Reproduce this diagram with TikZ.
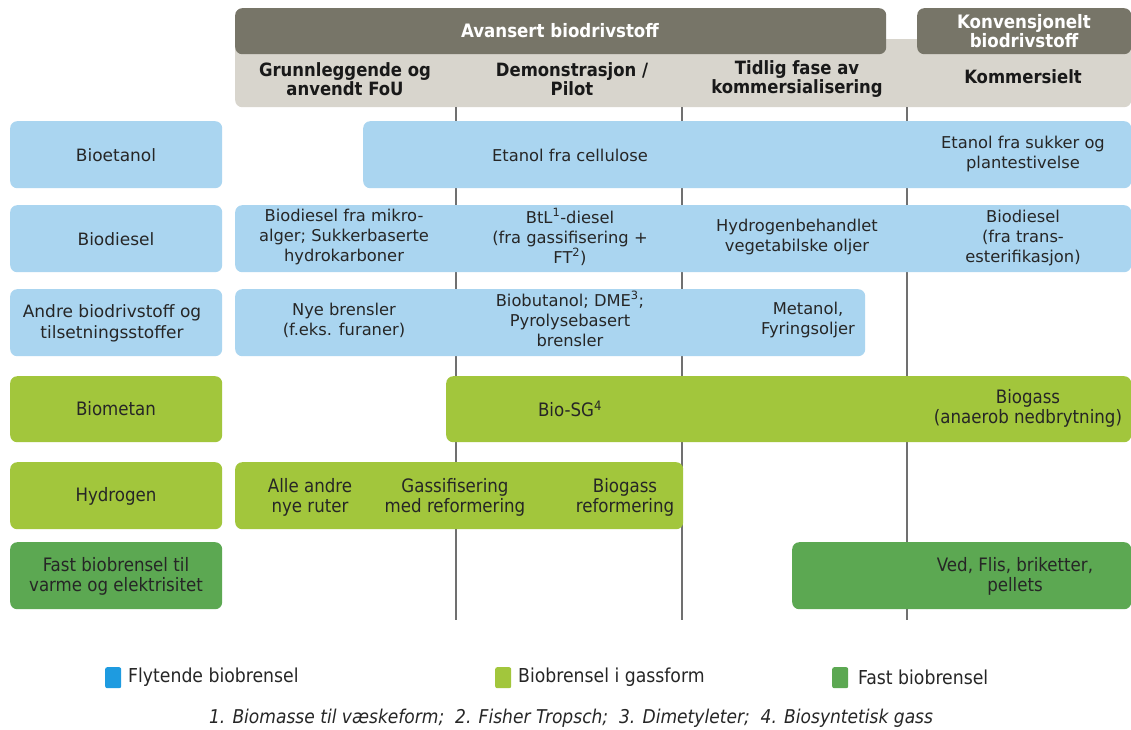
\documentclass[tikz,border=0pt]{standalone}
\usepackage{fontspec}
\setmainfont{DejaVu Sans}
\newfontfamily\condfont{DejaVu Sans Condensed}
\definecolor{hdrdark}{HTML}{777568}
\definecolor{hdrlight}{HTML}{D8D5CD}
\definecolor{lblue}{HTML}{AAD5F0}
\definecolor{lgreen}{HTML}{A2C63C}
\definecolor{dgreen}{HTML}{5CA852}
\definecolor{legblue}{HTML}{1E9BE0}
\definecolor{vline}{HTML}{707070}
\tikzset{
  boxbase/.style={rounded corners=7pt, anchor=north west, inner sep=0pt, draw=none},
  bluebox/.style={boxbase, fill=lblue},
  greenbox/.style={boxbase, fill=lgreen},
  darkbox/.style={boxbase, fill=dgreen},
  txt/.style={align=center, font=\fontsize{16.3}{20}\selectfont, text=black!85, inner sep=0pt},
  ltxt/.style={align=center, font=\fontsize{17}{21}\selectfont, text=black!85, inner sep=0pt},
  gtxt/.style={align=center, font=\condfont\fontsize{18.5}{20}\selectfont, text=black!85, inner sep=0pt},
  htxt/.style={align=center, font=\condfont\bfseries\fontsize{18.3}{18.5}\selectfont, text=black!90, inner sep=0pt},
  wtxt/.style={align=center, font=\condfont\bfseries\fontsize{18.5}{19.5}\selectfont, text=white, inner sep=0pt},
  legsq/.style={anchor=north west, inner sep=0pt, minimum width=16pt, minimum height=21pt, rounded corners=2pt},
  legtxt/.style={anchor=west, font=\condfont\fontsize{19.2}{20}\selectfont, text=black!85, inner sep=0pt},
  gridline/.style={draw=vline, line width=2.4pt}
}
\begin{document}
\begin{tikzpicture}[x=1pt,y=-1pt]
\useasboundingbox[fill=white] (0,0) rectangle (1131,729);
% header bands
\node[boxbase, fill=hdrlight, minimum width=896pt, minimum height=68pt] (hband) at (235,39) {};
\node[boxbase, fill=hdrdark, minimum width=651pt, minimum height=46pt] (hadv) at (235,8) {};
\node[boxbase, fill=hdrdark, minimum width=214pt, minimum height=46pt] (hkonv) at (917,8) {};
\node[wtxt] (tadv) at (560,31) {Avansert biodrivstoff};
\node[wtxt] (tkonv) at (1024,31) {Konvensjonelt\\biodrivstoff};
\node[htxt] (c1) at (345,79) {Grunnleggende og\\anvendt FoU};
\node[htxt] (c2) at (572,79) {Demonstrasjon /\\Pilot};
\node[htxt] (c3) at (797,79) {Tidlig fase av\\kommersialisering};
\node[htxt] (c4) at (1023,77) {Kommersielt};
% vertical grid lines
\coordinate (l1a) at (456,107); \coordinate (l1b) at (456,620);
\coordinate (l2a) at (682,107); \coordinate (l2b) at (682,620);
\coordinate (l3a) at (907,107); \coordinate (l3b) at (907,620);
\draw[gridline] (l1a) -- (l1b);
\draw[gridline] (l2a) -- (l2b);
\draw[gridline] (l3a) -- (l3b);
% row labels
\node[bluebox, minimum width=212pt, minimum height=67pt] (r1) at (10,121) {};
\node[bluebox, minimum width=212pt, minimum height=67pt] (r2) at (10,205) {};
\node[bluebox, minimum width=212pt, minimum height=67pt] (r3) at (10,289) {};
\node[greenbox, minimum width=212pt, minimum height=66pt] (r4) at (10,376) {};
\node[greenbox, minimum width=212pt, minimum height=67pt] (r5) at (10,462) {};
\node[darkbox, minimum width=212pt, minimum height=67pt] (r6) at (10,542) {};
\node[ltxt] (r1t) at (116,155) {Bioetanol};
\node[ltxt] (r2t) at (116,239) {Biodiesel};
\node[ltxt] (r3t) at (112,323) {Andre biodrivstoff og\\tilsetningsstoffer};
\node[gtxt] (r4t) at (116,409) {Biometan};
\node[gtxt] (r5t) at (116,496) {Hydrogen};
\node[gtxt] (r6t) at (116,576) {Fast biobrensel til\\varme og elektrisitet};
% bars
\node[bluebox, minimum width=768pt, minimum height=67pt] (b1) at (363,121) {};
\node[bluebox, minimum width=896pt, minimum height=67pt] (b2) at (235,205) {};
\node[bluebox, minimum width=630pt, minimum height=67pt] (b3) at (235,289) {};
\node[greenbox, minimum width=685pt, minimum height=66pt] (b4) at (446,376) {};
\node[greenbox, minimum width=448pt, minimum height=67pt] (b5) at (235,462) {};
\node[darkbox, minimum width=339pt, minimum height=67pt] (b6) at (792,542) {};
% bar texts
\node[txt] (t11) at (570,155) {Etanol fra cellulose};
\node[txt] (t12) at (1023,154) {Etanol fra sukker og\\plantestivelse};
\node[txt] (t21) at (344,237) {Biodiesel fra mikro-\\alger; Sukkerbaserte\\hydrokarboner};
\node[txt] (t22) at (570,237) {BtL\textsuperscript{1}-diesel\\(fra gassifisering +\\FT\textsuperscript{2})};
\node[txt] (t23) at (797,237) {Hydrogenbehandlet\\vegetabilske oljer};
\node[txt] (t24) at (1023,238) {Biodiesel\\(fra trans-\\esterifikasjon)};
\node[txt] (t31) at (344,320) {Nye brensler\\(f.eks. furaner)};
\node[txt] (t32) at (570,319) {Biobutanol; DME\textsuperscript{3};\\Pyrolysebasert\\brensler};
\node[txt] (t33) at (808,320) {Metanol,\\Fyringsoljer};
\node[gtxt] (t41) at (570,409) {Bio-SG\textsuperscript{4}};
\node[gtxt] (t42) at (1028,408) {Biogass\\(anaerob nedbrytning)};
\node[gtxt] (t51) at (310,497) {Alle andre\\nye ruter};
\node[gtxt] (t52) at (455,497) {Gassifisering\\med reformering};
\node[gtxt] (t53) at (625,497) {Biogass\\reformering};
\node[gtxt] (t61) at (1015,576) {Ved, Flis, briketter,\\pellets};
% legend
\node[legsq, fill=legblue] (s1) at (105,667) {};
\node[legtxt] (l1) at (128,677) {Flytende biobrensel};
\node[legsq, fill=lgreen] (s2) at (495,667) {};
\node[legtxt] (l2) at (518,677) {Biobrensel i gassform};
\node[legsq, fill=dgreen] (s3) at (832,667) {};
\node[legtxt] (l3) at (858,677) {Fast biobrensel};
\node[font=\condfont\itshape\fontsize{19}{20}\selectfont, text=black!85, inner sep=0pt] (fn) at (571,718) {1. Biomasse til væskeform;\ \ 2. Fisher Tropsch;\ \ 3. Dimetyleter;\ \ 4. Biosyntetisk gass};
\end{tikzpicture}
\end{document}
